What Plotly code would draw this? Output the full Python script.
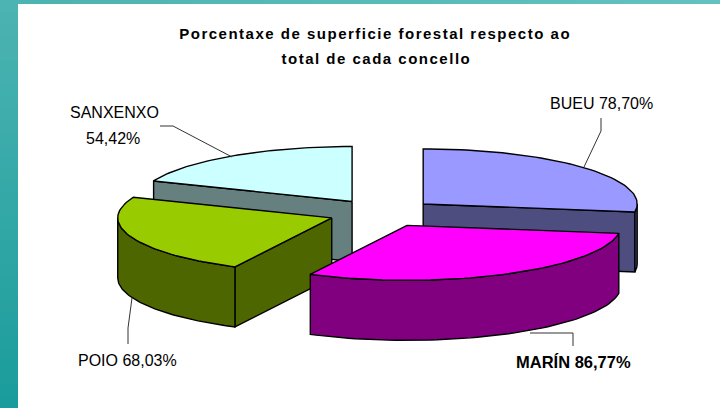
import numpy as np
import plotly.graph_objects as go

# values as printed on the chart labels
concellos = ["BUEU", "MARÍN", "POIO", "SANXENXO"]
porcentaxes = [78.70, 86.77, 68.03, 54.42]
top_colors = ["#9999FF", "#FF00FF", "#99CC00", "#CCFFFF"]
side_colors = ["#4D4D80", "#800080", "#4D6600", "#668080"]
draw_order = [3, 0, 2, 1]  # back slices first

title_lines = ["Porcentaxe de superficie forestal respecto ao", "total de cada concello"]

# pie geometry, in pixels (axes map 1:1 to the page)
CX, CY = 382.3, 213.0
RX, RY = 214.0, 55.0
EXPLODE = 54.0
DEPTH = 60.0

angles = np.cumsum([0] + porcentaxes) / sum(porcentaxes) * 360


def rim(cx, cy, a0, a1, n=60):
    t = np.radians(np.linspace(a0, a1, n))
    return cx + RX * np.sin(t), cy - RY * np.cos(t)


def poly(fig, x, y, color):
    fig.add_trace(go.Scatter(
        x=list(x) + [x[0]], y=list(y) + [y[0]], mode="lines", fill="toself", fillcolor=color,
        line=dict(color="#000000", width=1.4), hoverinfo="skip", showlegend=False))


fig = go.Figure()

for i in draw_order:
    a0, a1 = angles[i], angles[i + 1]
    mid = np.radians((a0 + a1) / 2)
    cx = CX + EXPLODE * np.sin(mid)
    cy = CY - EXPLODE * RY / RX * np.cos(mid)
    side = side_colors[i]

    # flat cut faces, only the ones turned towards the viewer
    for a, visible in ((a0, np.sin(np.radians(a0)) < -1e-6), (a1, np.sin(np.radians(a1)) > 1e-6)):
        if visible:
            ex, ey = rim(cx, cy, a, a, 1)
            poly(fig, [cx, ex[0], ex[0], cx], [cy, ey[0], ey[0] + DEPTH, cy + DEPTH], side)

    # curved outer wall, front half only
    lo, hi = max(a0, 90), min(a1, 270)
    if hi > lo:
        rx, ry = rim(cx, cy, lo, hi)
        poly(fig, np.r_[rx, rx[::-1]], np.r_[ry, ry[::-1] + DEPTH], side)

    # top face
    tx, ty = rim(cx, cy, a0, a1)
    poly(fig, np.r_[cx, tx], np.r_[cy, ty], top_colors[i])

# leader lines
leaders = [
    ([601, 601, 584], [118, 131, 167]),
    ([530, 573, 573], [333, 333, 346]),
    ([128, 128, 132], [344, 328, 298]),
    ([160, 173, 232], [126, 126, 157]),
]
for lx, ly in leaders:
    fig.add_trace(go.Scatter(x=lx, y=ly, mode="lines", line=dict(color="#333333", width=1),
                             hoverinfo="skip", showlegend=False))


def text(x, y, s, size=16, bold=False, color="#000000"):
    fig.add_annotation(x=x, y=y, text=f"<b>{s}</b>" if bold else s, showarrow=False,
                       xanchor="center", yanchor="middle",
                       font=dict(family="Liberation Sans", size=size, color=color))


def pct(i):
    return f"{porcentaxes[i]:.2f}".replace(".", ",") + "%"


text(375, 33, title_lines[0], size=15, bold=True)
text(376, 58, title_lines[1], size=15, bold=True)
text(601, 103, f"{concellos[0]} {pct(0)}")
text(573, 362, f"{concellos[1]} {pct(1)}", size=16.5, bold=True)
text(127, 360, f"{concellos[2]} {pct(2)}")
text(114, 112, concellos[3])
text(113, 138, pct(3))

# teal frame: vertical gradient down the left band, lighter strip along the top
shapes = []
for k in range(0, 408, 12):
    f = k / 408
    c = f"rgb({int(76 - 50 * f)},{int(180 - 24 * f)},{int(178 - 22 * f)})"
    shapes.append(dict(type="rect", x0=0, x1=18, y0=k, y1=k + 12, fillcolor=c, line_width=0, layer="below"))
for k in range(0, 720, 24):
    f = k / 720
    c = f"rgb({int(76 + 24 * f)},{int(180 + 14 * f)},{int(178 + 14 * f)})"
    shapes.append(dict(type="rect", x0=k, x1=k + 24, y0=0, y1=4, fillcolor=c, line_width=0, layer="below"))

fig.update_layout(
    width=720, height=408, margin=dict(l=0, r=0, t=0, b=0),
    paper_bgcolor="#FFFFFF", plot_bgcolor="#FFFFFF", showlegend=False, shapes=shapes,
    xaxis=dict(range=[0, 720], visible=False, fixedrange=True),
    yaxis=dict(range=[408, 0], visible=False, fixedrange=True),
)

# page margin off; the title is letter-spaced in the original
post = """
document.body.style.margin = '0';
document.querySelectorAll('.annotation-text').forEach(function (t) {
    if (t.textContent.startsWith('Porcentaxe') || t.textContent.startsWith('total de')) {
        t.style.letterSpacing = '1.5px';
    }
});
"""
fig.write_html("out.html", config=dict(displayModeBar=False), post_script=post)
